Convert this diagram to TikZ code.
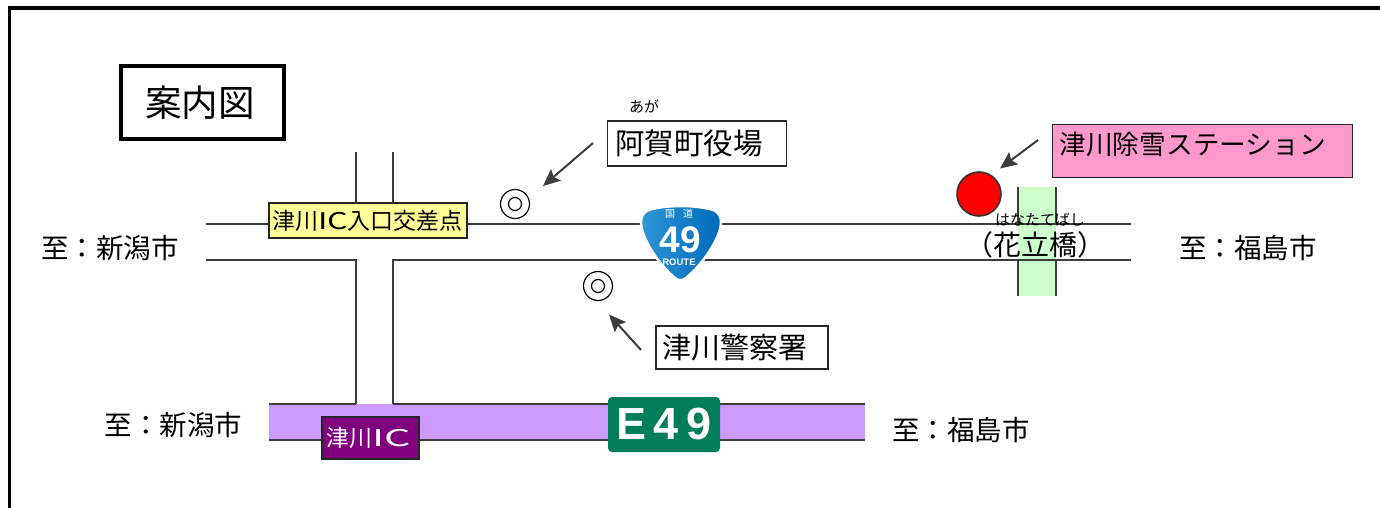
\documentclass[tikz,border=0pt]{standalone}
\usepackage{graphicx}
\usepackage{fontspec}
\setmainfont{Noto Sans CJK JP}
\setsansfont{Liberation Sans}
\usetikzlibrary{arrows.meta}
\definecolor{roadgray}{RGB}{60,60,60}
\definecolor{exprpurple}{RGB}{204,153,255}
\definecolor{junctionyellow}{RGB}{255,255,153}
\definecolor{stationpink}{RGB}{255,153,204}
\definecolor{icpurple}{RGB}{128,0,128}
\definecolor{signgreen}{RGB}{0,125,90}
\definecolor{bridgegreen}{RGB}{204,255,204}
\definecolor{shieldlight}{RGB}{45,150,215}
\definecolor{shielddark}{RGB}{0,105,185}
\newcommand{\wideIC}[1]{\scalebox{#1}[1]{IC}}
\tikzset{
  road/.style={draw=roadgray,line width=2pt},
  frameline/.style={draw=black,line width=3.6pt},
  labelbox/.style={draw=black!85,line width=1.6pt,inner ysep=0pt,align=left,text=black},
  place/.style={font=\fontsize{27.5}{30}\selectfont,inner sep=0pt,text=black},
  pointer/.style={draw=roadgray,line width=2pt,-{Stealth[length=17pt,width=15pt,inset=3pt]}},
  ruby/.style={font=\fontsize{15}{16}\selectfont,inner sep=0pt,text=black},
  ringmark/.style={circle,draw=black,line width=1.2pt,minimum size=29pt,inner sep=0pt},
  ringcore/.style={circle,draw=black,line width=1.2pt,minimum size=13pt,inner sep=0pt},
}
\begin{document}
\begin{tikzpicture}[x=1pt,y=-1pt]
\useasboundingbox (0,0) rectangle (1380,508);
\fill[white] (0,0) rectangle (1380,508);
% frame
\draw[frameline] (9.3,508) -- (9.3,8) -- (1380,8);
% bridge
\fill[bridgegreen] (1018,187) rectangle (1056,296);
\draw[road] (1018,187) -- (1018,224) (1056,187) -- (1056,224) (1018,260) -- (1018,296) (1056,260) -- (1056,296);
% expressway
\fill[exprpurple] (269,403.5) rectangle (865,439.5);
\draw[road] (269,403.5) -- (355.5,403.5) (392.5,403.5) -- (865,403.5) (269,439.5) -- (865,439.5);
% roads
\coordinate (nl) at (206,224); \coordinate (nr) at (1131,224);
\coordinate (sl) at (206,260); \coordinate (sr) at (1131,260);
\draw[road] (nl) -- (nr);
\draw[road] (sl) -- (355.5,260) -- (355.5,403.5);
\draw[road] (sr) -- (392.5,260) -- (392.5,403.5);
\draw[road] (355.5,152) -- (355.5,224);
\draw[road] (392.5,152) -- (392.5,224);
% title
\node[labelbox,draw=black,line width=3.6pt,minimum height=73pt,inner xsep=24pt,text width=115pt,font=\fontsize{36.5}{38}\selectfont] (title) at (202.5,102.5) {案内図};
% junction
\node[labelbox,minimum height=35pt,inner xsep=3pt,text width=192pt,fill=junctionyellow,font=\fontsize{23}{25}\selectfont] (jct) at (368,220.5) {津川\wideIC{1.4}入口交差点};
% town hall
\node[ruby] (ag) at (644,107) {あが};
\node[labelbox,minimum height=45pt,inner xsep=7.5pt,text width=164pt,font=\fontsize{29.5}{32}\selectfont] (hall) at (697,143.5) {阿賀町役場};
\node[ringmark] (m1) at (515,204) {};
\node[ringcore] at (m1) {};
\coordinate (p1) at (593,143);
\draw[pointer] (p1) -- (543,186);
% police
\node[ringmark] (m2) at (598,286) {};
\node[ringcore] at (m2) {};
\node[labelbox,minimum height=43pt,inner xsep=6pt,text width=160pt,font=\fontsize{29}{32}\selectfont] (pol) at (742,347.5) {津川警察署};
\coordinate (p2) at (641,350);
\draw[pointer] (p2) -- (609,314.5);
% station
\node[labelbox,minimum height=53pt,inner xsep=7pt,text width=286pt,fill=stationpink,font=\fontsize{26.7}{28}\selectfont,text height=24pt,text depth=18pt] (stn) at (1202.5,151) {津川除雪ステーション};
\node[circle,draw=black!80,line width=1.6pt,fill=red,minimum size=44pt,inner sep=0pt] (dot) at (979,194) {};
\coordinate (p3) at (1038,140);
\draw[pointer] (p3) -- (1000,168.5);
% bridge label
\node[ruby] (hr) at (1040,220) {はなたてばし};
\node[font=\fontsize{28}{30}\selectfont,inner sep=0pt,text=black] (hb) at (1035,245) {（花立橋）};
% destinations
\node[place] (a1) at (110,248) {至：新潟市};
\node[place] (a2) at (1248,248) {至：福島市};
\node[place] (a3) at (173.5,425) {至：新潟市};
\node[place] (a4) at (961,430) {至：福島市};
% IC
\node[labelbox,minimum height=42pt,inner xsep=4pt,text width=89pt,fill=icpurple,text=white,font=\fontsize{23}{25}\selectfont] (ic) at (370.5,438) {津川\wideIC{1.8}};
% E49
\node[fill=signgreen,rounded corners=4pt,minimum width=112pt,minimum height=55pt,inner sep=0pt,text=white,font=\sffamily\bfseries\fontsize{45}{48}\selectfont] (e49) at (664,424.5) {E\hspace{7pt}4\hspace{7pt}9};
% route shield
\path[left color=shieldlight,right color=shielddark,draw=white,line width=2.5pt] (641,222) .. controls (641,214) and (646,210) .. (652,209) .. controls (670,205) and (692,205) .. (710,209) .. controls (716,210) and (721,214) .. (721,222) .. controls (721,238) and (702,265) .. (686,278) .. controls (682,281) and (678,281) .. (675,278) .. controls (659,265) and (641,238) .. (641,222) -- cycle;
\node[text=white,inner sep=0pt,font=\fontsize{10}{11}\selectfont] (s1) at (679,214) {国\hspace{8pt}道};
\node[text=white,inner sep=0pt,font=\sffamily\bfseries\fontsize{37}{38}\selectfont] (s2) at (680,240) {49};
\node[text=white,inner sep=0pt,font=\sffamily\bfseries\fontsize{9.5}{10}\selectfont] (s3) at (679,262) {ROUTE};
\end{tikzpicture}
\end{document}
